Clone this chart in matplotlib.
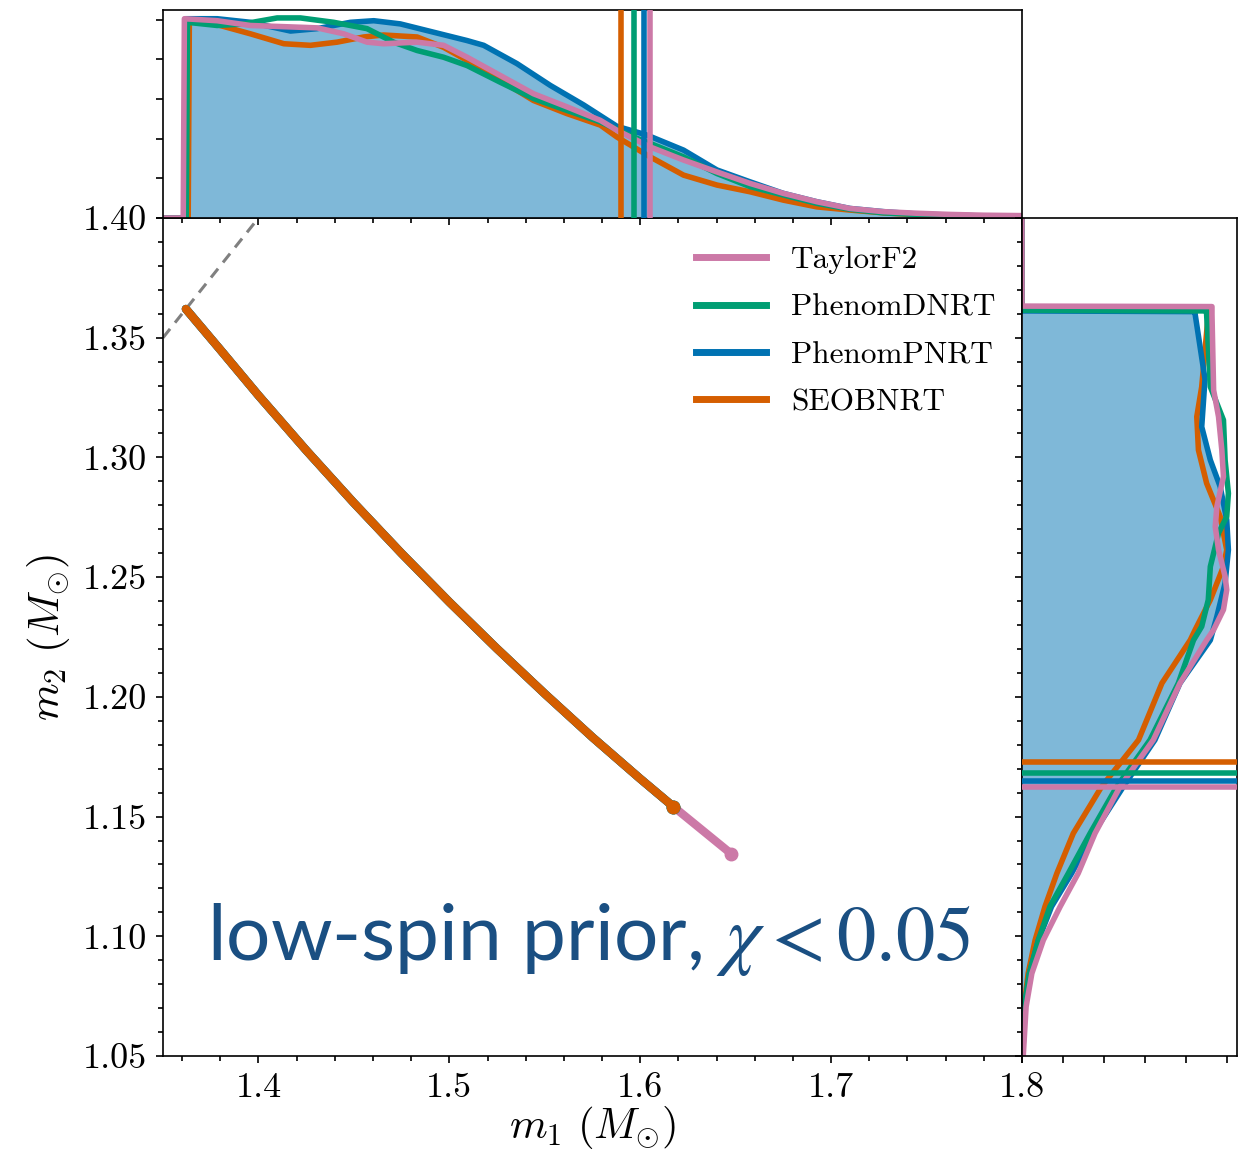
import numpy as np
import matplotlib
matplotlib.use("Agg")
import matplotlib.pyplot as plt
from matplotlib.ticker import MultipleLocator, FormatStrFormatter, NullFormatter
from matplotlib.lines import Line2D

plt.rcParams['mathtext.fontset'] = 'cm'
plt.rcParams['font.family'] = 'cmr10'
plt.rcParams['axes.unicode_minus'] = False
plt.rcParams['axes.formatter.use_mathtext'] = True

# ---------------- data ----------------
approximants = ['TaylorF2', 'PhenomDNRT', 'PhenomPNRT', 'SEOBNRT']
colors = {'TaylorF2': '#cc79a7', 'PhenomDNRT': '#009e73',
          'PhenomPNRT': '#0072b2', 'SEOBNRT': '#d55e00'}

# constant-chirp-mass track in the (m1, m2) plane
track_m1 = [1.362, 1.380, 1.400, 1.425, 1.450, 1.475, 1.500, 1.525, 1.550,
            1.575, 1.600, 1.6173, 1.6476]
track_m2 = [1.362, 1.345, 1.3259, 1.3030, 1.281, 1.2599, 1.2396, 1.2201, 1.2013,
            1.1831, 1.1658, 1.1542, 1.1345]
track_npoints = {'TaylorF2': 13, 'PhenomDNRT': 12, 'PhenomPNRT': 12, 'SEOBNRT': 12}

equal_mass = [1.35, 1.40]

# marginal m1 densities
m1_T = [1.350, 1.3606, 1.3612, 1.3784, 1.3958, 1.4133, 1.4307, 1.4447, 1.4569, 1.4656,
        1.4831, 1.4970, 1.5093, 1.5267, 1.5441, 1.5616, 1.5791, 1.5878, 1.6052, 1.6227,
        1.6402, 1.6576, 1.6750, 1.6925, 1.7099, 1.7274, 1.7449, 1.7623, 1.7800, 1.8000]
p1_T = [0, 0, 5.02, 4.97, 4.85, 4.82, 4.79, 4.64, 4.43, 4.39,
        4.43, 4.35, 4.05, 3.59, 3.13, 2.80, 2.46, 2.21, 1.79, 1.46,
        1.16, 0.87, 0.62, 0.41, 0.24, 0.16, 0.12, 0.09, 0.07, 0.06]
m1_D = [1.350, 1.3622, 1.3628, 1.3784, 1.3923, 1.4098, 1.4220, 1.4394, 1.4569, 1.4708,
        1.4831, 1.4970, 1.5093, 1.5267, 1.5441, 1.5616, 1.5791, 1.5965, 1.6052, 1.6227,
        1.6402, 1.6576, 1.6750, 1.6925, 1.7099, 1.7274, 1.7449, 1.7623, 1.7800, 1.8000]
p1_D = [0, 0, 4.93, 4.85, 4.89, 5.04, 5.04, 4.93, 4.77, 4.43,
        4.22, 4.05, 3.84, 3.42, 3.01, 2.71, 2.42, 2.04, 1.88, 1.54,
        1.12, 0.79, 0.58, 0.37, 0.22, 0.13, 0.09, 0.07, 0.05, 0.04]
m1_P = [1.350, 1.3612, 1.3618, 1.3784, 1.3958, 1.4168, 1.4307, 1.4482, 1.4604, 1.4743,
        1.4918, 1.5093, 1.5180, 1.5354, 1.5529, 1.5703, 1.5878, 1.6035, 1.6227, 1.6402,
        1.6576, 1.6750, 1.6925, 1.7099, 1.7274, 1.7449, 1.7623, 1.7800, 1.8000]
p1_P = [0, 0, 5.02, 5.02, 4.93, 4.71, 4.77, 4.93, 4.97, 4.89,
        4.68, 4.47, 4.35, 3.89, 3.34, 2.85, 2.31, 2.09, 1.71, 1.21,
        0.91, 0.62, 0.41, 0.24, 0.16, 0.10, 0.075, 0.05, 0.04]
m1_S = [1.350, 1.3632, 1.3638, 1.3784, 1.3958, 1.4133, 1.4272, 1.4412, 1.4551, 1.4656,
        1.4831, 1.4970, 1.5093, 1.5267, 1.5441, 1.5616, 1.5791, 1.5878, 1.6052, 1.6227,
        1.6402, 1.6576, 1.6750, 1.6925, 1.7099, 1.7274, 1.7449, 1.7623, 1.7800, 1.8000]
p1_S = [0, 0, 4.97, 4.87, 4.64, 4.39, 4.35, 4.43, 4.56, 4.61,
        4.56, 4.30, 3.97, 3.47, 2.96, 2.63, 2.34, 2.04, 1.54, 1.08,
        0.83, 0.66, 0.45, 0.28, 0.20, 0.13, 0.08, 0.06, 0.05, 0.04]

# marginal m2 densities
m2_T = [1.400, 1.3632, 1.3630, 1.3598, 1.3281, 1.3170, 1.3031, 1.2920, 1.2795, 1.2711,
        1.2614, 1.2503, 1.2447, 1.2364, 1.2280, 1.2237, 1.2057, 1.1820, 1.1625, 1.1430,
        1.1263, 1.1124, 1.0984, 1.0845, 1.0706, 1.0500]
p2_T = [0, 0, 4.63, 4.63, 4.67, 4.79, 4.87, 4.91, 4.75, 4.71,
        4.79, 4.95, 4.99, 4.91, 4.67, 4.50, 3.85, 3.20, 2.39, 1.78,
        1.37, 0.93, 0.52, 0.24, 0.10, 0.03]
m2_D = [1.400, 1.3615, 1.3612, 1.3598, 1.3295, 1.3156, 1.2989, 1.2850, 1.2753, 1.2684,
        1.2544, 1.2405, 1.2294, 1.2237, 1.2057, 1.1820, 1.1625, 1.1430, 1.1263, 1.1124,
        1.0984, 1.0845, 1.0706, 1.0500]
p2_D = [0, 0, 4.50, 4.50, 4.59, 4.91, 4.95, 5.03, 4.99, 4.79,
        4.59, 4.54, 4.38, 4.18, 3.81, 3.12, 2.31, 1.66, 1.13, 0.68,
        0.40, 0.18, 0.06, 0.02]
m2_P = [1.400, 1.3612, 1.3609, 1.3598, 1.3327, 1.3128, 1.2989, 1.2878, 1.2739, 1.2614,
        1.2475, 1.2336, 1.2237, 1.2057, 1.1820, 1.1625, 1.1430, 1.1263, 1.1124, 1.0984,
        1.0845, 1.0706, 1.0500]
p2_P = [0, 0, 4.22, 4.22, 4.46, 4.38, 4.59, 4.83, 4.99, 5.03,
        4.95, 4.75, 4.59, 3.85, 3.24, 2.47, 1.74, 1.21, 0.72, 0.40,
        0.18, 0.06, 0.02]
m2_S = [1.400, 1.3620, 1.3618, 1.3598, 1.3295, 1.3170, 1.3031, 1.2892, 1.2753, 1.2614,
        1.2544, 1.2405, 1.2280, 1.2237, 1.2057, 1.1820, 1.1625, 1.1430, 1.1263, 1.1124,
        1.0984, 1.0845, 1.0706, 1.0500]
p2_S = [0, 0, 4.54, 4.54, 4.38, 4.26, 4.30, 4.50, 4.83, 4.99,
        4.91, 4.59, 4.22, 4.10, 3.41, 2.84, 1.94, 1.25, 0.85, 0.56,
        0.32, 0.15, 0.05, 0.01]

m1_marg = {'TaylorF2': (m1_T, p1_T), 'PhenomDNRT': (m1_D, p1_D),
           'PhenomPNRT': (m1_P, p1_P), 'SEOBNRT': (m1_S, p1_S)}
m2_marg = {'TaylorF2': (m2_T, p2_T), 'PhenomDNRT': (m2_D, p2_D),
           'PhenomPNRT': (m2_P, p2_P), 'SEOBNRT': (m2_S, p2_S)}

m1_bound = {'TaylorF2': 1.6052, 'PhenomDNRT': 1.5969, 'PhenomPNRT': 1.6021, 'SEOBNRT': 1.5899}
m2_bound = {'TaylorF2': 1.1622, 'PhenomDNRT': 1.1683, 'PhenomPNRT': 1.1650, 'SEOBNRT': 1.1729}

# ---------------- figure ----------------
W, H = 1253, 1158
fig = plt.figure(figsize=(W / 100, H / 100), dpi=100)

def frac(x0, y0, x1, y1):
    return [x0 / W, 1 - y1 / H, (x1 - x0) / W, (y1 - y0) / H]

ax = fig.add_axes(frac(163, 218, 1022, 1056))
axt = fig.add_axes(frac(163, 10, 1022, 218))
axr = fig.add_axes(frac(1022, 218, 1237, 1056))

LW_M = 4.0
# main panel
ax.plot(equal_mass, equal_mass, color='0.5', lw=2.2, ls=(0, (3.7, 2.6)), zorder=1)
handles = {}
for name in approximants:
    n = track_npoints[name]
    ax.plot(track_m1[:n], track_m2[:n], color=colors[name], lw=6,
            solid_capstyle='round', solid_joinstyle='round', zorder=2)
    ax.plot(track_m1[n - 1], track_m2[n - 1], 'o', color=colors[name], ms=9, zorder=2)
    handles[name] = Line2D([], [], color=colors[name], lw=5)

ax.set_xlim(1.35, 1.80)
ax.set_ylim(1.05, 1.40)
ax.xaxis.set_major_locator(MultipleLocator(0.1))
ax.xaxis.set_minor_locator(MultipleLocator(0.02))
ax.yaxis.set_major_locator(MultipleLocator(0.05))
ax.yaxis.set_minor_locator(MultipleLocator(0.01))
ax.xaxis.set_major_formatter(FormatStrFormatter('%.1f'))
ax.yaxis.set_major_formatter(FormatStrFormatter('%.2f'))
ax.tick_params(which='both', direction='out', top=False, right=False, labelsize=26, width=1.2)
ax.tick_params(which='major', length=5, pad=6.5)
ax.tick_params(which='minor', length=3.5)
ax.set_xlabel(r'$m_1\ (M_{\odot})$', fontsize=31, labelpad=0)
ax.set_ylabel(r'$m_2\ (M_{\odot})$', fontsize=31, labelpad=8)

leg = ax.legend([handles[n] for n in approximants], approximants, loc='upper left',
                bbox_to_anchor=(0.620, 0.966), frameon=False, fontsize=22.5,
                handlelength=2.25, handletextpad=0.8, labelspacing=0.62,
                borderpad=0, borderaxespad=0)

ax.text(0.0512, 0.1146, r'low-spin prior, $\chi < 0.05$', transform=ax.transAxes,
        fontsize=56.5, color='#1a4f82', family='Lato', math_fontfamily='stix',
        va='baseline', ha='left')

# top marginal (m1)
x_fill, y_fill = m1_marg['PhenomPNRT']
axt.fill_between(x_fill, 0, y_fill, color=colors['PhenomPNRT'], alpha=0.5, lw=0, zorder=0)
for name in ['SEOBNRT', 'PhenomPNRT', 'PhenomDNRT', 'TaylorF2']:
    xs, ys = m1_marg[name]
    axt.plot(xs, ys, color=colors[name], lw=LW_M, solid_joinstyle='round', zorder=2)
for name in ['SEOBNRT', 'PhenomDNRT', 'PhenomPNRT', 'TaylorF2']:
    axt.axvline(m1_bound[name], color=colors[name], lw=LW_M, zorder=3)
axt.set_xlim(1.35, 1.80)
axt.set_ylim(0, 5.24)
axt.xaxis.set_major_locator(MultipleLocator(0.1))
axt.xaxis.set_minor_locator(MultipleLocator(0.02))
axt.yaxis.set_major_locator(MultipleLocator(1))
axt.xaxis.set_major_formatter(NullFormatter())
axt.yaxis.set_major_formatter(NullFormatter())
axt.tick_params(which='both', direction='out', width=1.2)
axt.tick_params(which='major', length=5)
axt.tick_params(which='minor', length=3.5)

# right marginal (m2)
y_fill, x_fill = m2_marg['PhenomPNRT']
axr.fill_betweenx(y_fill, 0, x_fill, color=colors['PhenomPNRT'], alpha=0.5, lw=0, zorder=0)
for name in ['SEOBNRT', 'PhenomPNRT', 'PhenomDNRT', 'TaylorF2']:
    ys, xs = m2_marg[name]
    axr.plot(xs, ys, color=colors[name], lw=LW_M, solid_joinstyle='round', zorder=2)
for name in ['SEOBNRT', 'PhenomDNRT', 'PhenomPNRT', 'TaylorF2']:
    axr.axhline(m2_bound[name], color=colors[name], lw=LW_M, zorder=3)
axr.set_ylim(1.05, 1.40)
axr.set_xlim(0, 5.24)
axr.yaxis.set_major_locator(MultipleLocator(0.05))
axr.yaxis.set_minor_locator(MultipleLocator(0.01))
axr.xaxis.set_major_locator(MultipleLocator(1))
axr.xaxis.set_major_formatter(NullFormatter())
axr.yaxis.set_major_formatter(NullFormatter())
axr.tick_params(which='both', direction='out', width=1.2)
axr.tick_params(which='major', length=5)
axr.tick_params(which='minor', length=3.5)

for a in (ax, axt, axr):
    for s in a.spines.values():
        s.set_linewidth(1.2)

fig.savefig('out.png', dpi=100)
